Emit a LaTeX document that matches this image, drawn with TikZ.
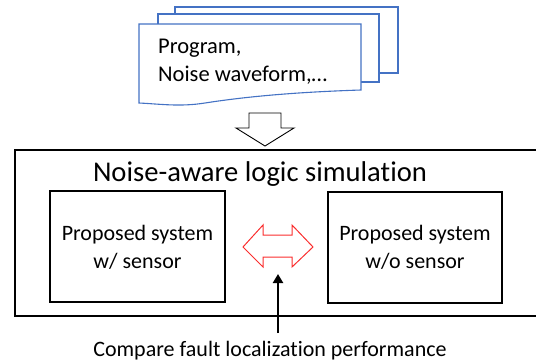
\documentclass[tikz,border=0pt]{standalone}
\usepackage{fontspec}
\setmainfont{Carlito}[Ligatures=NoCommon]
\usetikzlibrary{arrows.meta}
\definecolor{docblue}{RGB}{68,114,196}
\definecolor{arrred}{RGB}{250,45,45}
\begin{document}
\begin{tikzpicture}[x=1pt,y=-1pt,
  doc/.style={draw=docblue,line width=1.1pt,fill=white},
  box/.style={draw=black,line width=1.4pt,fill=none},
  txt/.style={inner sep=0pt,anchor=base,font=\fontsize{22}{26}\selectfont},
  title/.style={inner sep=0pt,anchor=base,font=\fontsize{28.6}{32}\selectfont}]
\useasboundingbox (0,0) rectangle (536,364);
% stacked documents
\draw[doc] (175,7) rectangle (398,73);
\draw[doc] (158,14) rectangle (379,82);
\draw[doc] (139,24) -- (361,24) -- (361,90)
  .. controls (300,92) and (250,96) .. (205,103)
  .. controls (180,107) and (160,104) .. (139,103) -- cycle;
\node[txt,anchor=base west,font=\fontsize{22.5}{26}\selectfont] (prog) at (158,53) {Program,};
\node[txt,anchor=base west,font=\fontsize{22.5}{26}\selectfont] (noise) at (158,81) {Noise waveform,…};
% block arrow down
\draw[line width=0.9pt,fill=white] (249,113) -- (281,113) -- (281,128) -- (294,128)
  -- (265,146) -- (236,128) -- (249,128) -- cycle;
% outer box
\draw[box] (15,150) rectangle (545,316);
\node[title] (ttl) at (260,181) {Noise-aware logic simulation};
% inner boxes
\draw[box] (50,191) rectangle (225,302);
\draw[box] (328,192) rectangle (502,303);
\node[txt] (l1) at (137.5,240) {Proposed system};
\node[txt] (l2) at (137.5,268) {w/ sensor};
\node[txt] (r1) at (415,240) {Proposed system};
\node[txt] (r2) at (415,268) {w/o sensor};
% red double arrow
\draw[arrred,line width=1pt] (243,247) -- (263,225) -- (263,235) -- (292,235) -- (292,225)
  -- (313,247) -- (292,267) -- (292,257) -- (263,257) -- (263,267) -- cycle;
\coordinate (cmp) at (278,274);
% bottom label and arrow
\node[txt] (lbl) at (270,356) {Compare fault localization performance};
\coordinate (lblt) at (278,333);
\draw[line width=2.8pt,-{Triangle[width=10pt,length=9pt]}] (lblt) -- (cmp);
\end{tikzpicture}
\end{document}
